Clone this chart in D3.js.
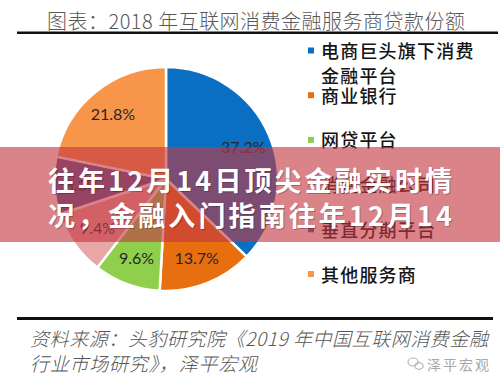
<!DOCTYPE html>
<html><head><meta charset="utf-8">
<script src="https://cdn.jsdelivr.net/npm/d3@7"></script>
<style>
html,body{margin:0;padding:0;background:#fff;}
svg{display:block;}
</style></head>
<body><svg id="c" width="500" height="390"></svg>
<script>
const title = "图表：2018 年互联网消费金融服务商贷款份额";
const categories = ["电商巨头旗下消费金融平台","商业银行","网贷平台","消费金融公司","垂直分期平台","其他服务商"];
const legendLines = [["电商巨头旗下消费","金融平台"],["商业银行"],["网贷平台"],["消费金融公司"],["垂直分期平台"],["其他服务商"]];
const values = [37.2, 13.7, 9.6, 9.4, 8.3, 21.8];
const colors = ["#0A6FC2","#E76F10","#8FCF4C","#E8A6A6","#4F5A9E","#F7964A"];
const overlayLines = ["往年12月14日顶尖金融实时情","况，金融入门指南往年12月14"];
const sourceLines = ["资料来源：头豹研究院《2019 年中国互联网消费金融","行业市场研究》，泽平宏观"];
const watermark = "泽平宏观";

const svg = d3.select("#c");
const CJK = "'Noto Sans CJK SC','Noto Sans',sans-serif";

// title
svg.append("text").attr("x",47).attr("y",20).attr("dominant-baseline","central")
  .attr("font-family",CJK).attr("font-size",20).attr("font-weight",300).attr("fill","#585858")
  .attr("textLength",418).attr("lengthAdjust","spacing").text(title);
// rules
svg.append("rect").attr("x",17).attr("y",31.5).attr("width",481).attr("height",2.5).attr("fill","#111");
svg.append("rect").attr("x",17).attr("y",317).attr("width",476).attr("height",3).attr("fill","#111");

// pie
const cx=166, cy=179, R=112;
const pie = d3.pie().sort(null).value(d=>d).startAngle(0).endAngle(2*Math.PI);
const arcs = pie(values);
const arc = d3.arc().innerRadius(0).outerRadius(R);
const labelArc = d3.arc().innerRadius(84).outerRadius(84);
const g = svg.append("g").attr("transform",`translate(${cx},${cy})`);
g.selectAll("path").data(arcs).join("path")
  .attr("d",arc).attr("fill",(d,i)=>colors[i]).attr("stroke","#fff").attr("stroke-width",2.5);
g.selectAll("text").data(arcs).join("text")
  .attr("transform",d=>`translate(${labelArc.centroid(d)})`)
  .attr("text-anchor","middle").attr("dominant-baseline","central")
  .attr("font-family","Lato,'Open Sans',sans-serif").attr("font-size",16).attr("fill","#262626")
  .text(d=>d.value.toFixed(1)+"%");

// legend
const ly = d3.scaleLinear().domain([0,1]).range([50,94.7]);
const leg = svg.append("g");
categories.forEach((c,i)=>{
  const y = ly(i);
  leg.append("rect").attr("x",308).attr("y",y-2.5).attr("width",6).attr("height",6).attr("fill",colors[i]);
  legendLines[i].forEach((t,j)=>{
    leg.append("text").attr("x",321).attr("y",y+j*25).attr("dominant-baseline","central")
      .attr("font-family",CJK).attr("font-size",18).attr("font-weight",500).attr("letter-spacing",1.2)
      .attr("fill","#151515").text(t);
  });
});

// source
sourceLines.forEach((t,i)=>{
  const s = svg.append("text").attr("x",30).attr("y",337+i*25).attr("dominant-baseline","central")
    .attr("font-family",CJK).attr("font-size",19).attr("font-style","italic").attr("font-weight",300)
    .attr("fill","#555").text(t);
  s.attr("textLength", i===0?458:227).attr("lengthAdjust","spacing");
});
// watermark
const wm = svg.append("g").attr("fill","none").attr("stroke","#b5b5b5").attr("stroke-width",1.2);
wm.append("ellipse").attr("cx",413).attr("cy",362).attr("rx",5).attr("ry",4);
wm.append("ellipse").attr("cx",419).attr("cy",366).attr("rx",4.2).attr("ry",3.4);
svg.append("text").attr("x",427).attr("y",364).attr("dominant-baseline","central")
  .attr("font-family",CJK).attr("font-size",14).attr("fill","#a8a8a8")
  .attr("textLength",62).attr("lengthAdjust","spacing").text(watermark);

// overlay band
svg.append("rect").attr("x",0).attr("y",147).attr("width",500).attr("height",95)
  .attr("fill","rgb(195,55,65)").attr("fill-opacity",0.62);
overlayLines.forEach((t,i)=>{
  const y = 179 + i*35;
  svg.append("text").attr("x",49).attr("y",y+1.2).attr("dominant-baseline","central")
    .attr("font-family",CJK).attr("font-size",27).attr("font-weight",700).attr("fill","#000").attr("fill-opacity",0.25)
    .attr("textLength",404).attr("lengthAdjust","spacing").text(t);
  svg.append("text").attr("x",48).attr("y",y).attr("dominant-baseline","central")
    .attr("font-family",CJK).attr("font-size",27).attr("font-weight",700).attr("fill","#fff")
    .attr("textLength",404).attr("lengthAdjust","spacing").text(t);
});
</script></body></html>
